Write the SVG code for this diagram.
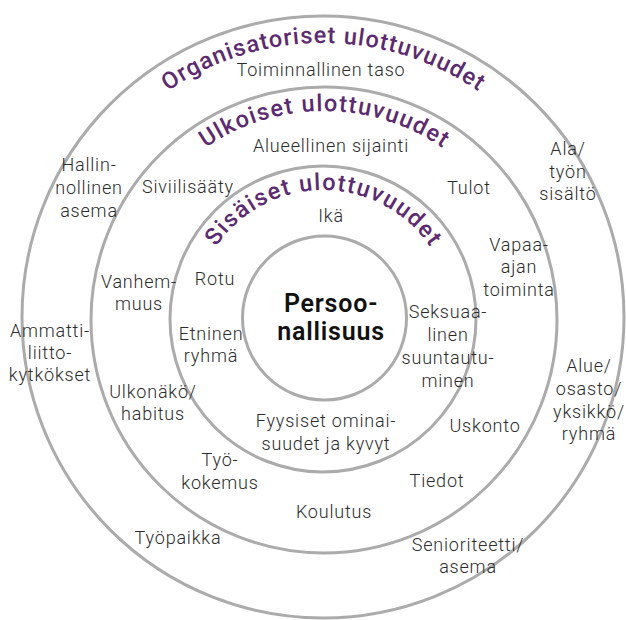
<svg xmlns="http://www.w3.org/2000/svg" width="626" height="620" viewBox="0 0 626 620">
<style>
.ring{fill:none;stroke:#ababab;stroke-width:3}
.lbl{font-family:Roboto,"Liberation Sans",sans-serif;font-size:18px;font-weight:300;letter-spacing:0.8px;fill:#2b2b2b;text-anchor:middle}
.ttl{font-family:Roboto,"Liberation Sans",sans-serif;font-size:23.5px;font-weight:500;fill:#5b2a70;text-anchor:middle}
.core{font-family:Roboto,"Liberation Sans",sans-serif;font-size:25px;font-weight:600;letter-spacing:0.8px;fill:#111;text-anchor:middle}
</style>
<defs>
<path id="arcOrg" d="M49,317 A274,274 0 0 1 597,317"/>
<path id="arcUlk" d="M115,320 A209,209 0 0 1 533,320"/>
<path id="arcSis" d="M194,319 A129,129 0 0 1 452,319"/>
</defs>
<rect width="626" height="620" fill="#fff"/>
<g id="organisatoriset">
<circle class="ring" cx="323" cy="317" r="301"/>
<text class="ttl"><textPath href="#arcOrg" startOffset="50%" textLength="330" lengthAdjust="spacing">Organisatoriset ulottuvuudet</textPath></text>
</g>
<g id="ulkoiset">
<circle class="ring" cx="324" cy="320" r="233"/>
<text class="ttl"><textPath href="#arcUlk" startOffset="50%" textLength="252" lengthAdjust="spacing">Ulkoiset ulottuvuudet</textPath></text>
</g>
<g id="sisaiset">
<circle class="ring" cx="323" cy="319" r="153"/>
<text class="ttl"><textPath href="#arcSis" startOffset="50%" textLength="252" lengthAdjust="spacing">Sisäiset ulottuvuudet</textPath></text>
</g>
<g id="persoonallisuus">
<circle class="ring" cx="324.5" cy="318" r="82"/>
<text class="core"><tspan x="331" y="312">Persoo-</tspan><tspan x="331" y="340">nallisuus</tspan></text>
</g>
<g id="connectors"/>
<g id="labels">
<g id="toiminnallinen"><text class="lbl" x="321" y="76">Toiminnallinen taso</text></g>
<g id="alueellinen"><text class="lbl" x="331" y="152">Alueellinen sijainti</text></g>
<g id="hallinnollinen"><text class="lbl"><tspan x="89" y="171">Hallin-</tspan><tspan x="89" y="194">nollinen</tspan><tspan x="89" y="217">asema</tspan></text></g>
<g id="siviilisaaty"><text class="lbl" x="188" y="193">Siviilisääty</text></g>
<g id="tulot"><text class="lbl" x="469" y="194">Tulot</text></g>
<g id="ala"><text class="lbl"><tspan x="568" y="155">Ala/</tspan><tspan x="568" y="178">työn</tspan><tspan x="568" y="200">sisältö</tspan></text></g>
<g id="ika"><text class="lbl" x="331" y="222">Ikä</text></g>
<g id="vapaa-ajan"><text class="lbl"><tspan x="519" y="251">Vapaa-</tspan><tspan x="519" y="273">ajan</tspan><tspan x="519" y="296">toiminta</tspan></text></g>
<g id="vanhemmuus"><text class="lbl"><tspan x="139" y="288">Vanhem-</tspan><tspan x="139" y="310">muus</tspan></text></g>
<g id="rotu"><text class="lbl" x="215" y="285">Rotu</text></g>
<g id="etninen"><text class="lbl"><tspan x="211" y="340">Etninen</tspan><tspan x="211" y="362">ryhmä</tspan></text></g>
<g id="seksuaalinen"><text class="lbl"><tspan x="448" y="318">Seksuaa-</tspan><tspan x="448" y="341">linen</tspan><tspan x="448" y="364">suuntautu-</tspan><tspan x="448" y="387">minen</tspan></text></g>
<g id="ammattiliitto"><text class="lbl"><tspan x="50" y="337">Ammatti-</tspan><tspan x="50" y="359">liitto-</tspan><tspan x="50" y="381">kytkökset</tspan></text></g>
<g id="ulkonako"><text class="lbl"><tspan x="153" y="398">Ulkonäkö/</tspan><tspan x="153" y="420">habitus</tspan></text></g>
<g id="fyysiset"><text class="lbl"><tspan x="326" y="427">Fyysiset ominai-</tspan><tspan x="326" y="450">suudet ja kyvyt</tspan></text></g>
<g id="uskonto"><text class="lbl" x="485" y="432">Uskonto</text></g>
<g id="tyokokemus"><text class="lbl"><tspan x="220" y="466">Työ-</tspan><tspan x="220" y="489">kokemus</tspan></text></g>
<g id="tiedot"><text class="lbl" x="437" y="487">Tiedot</text></g>
<g id="koulutus"><text class="lbl" x="334" y="518">Koulutus</text></g>
<g id="tyopaikka"><text class="lbl" x="178" y="544">Työpaikka</text></g>
<g id="senioriteetti"><text class="lbl"><tspan x="468" y="551">Senioriteetti/</tspan><tspan x="468" y="573">asema</tspan></text></g>
<g id="alue"><text class="lbl"><tspan x="589" y="372">Alue/</tspan><tspan x="589" y="395">osasto/</tspan><tspan x="589" y="418">yksikkö/</tspan><tspan x="589" y="440">ryhmä</tspan></text></g>
</g>
</svg>
